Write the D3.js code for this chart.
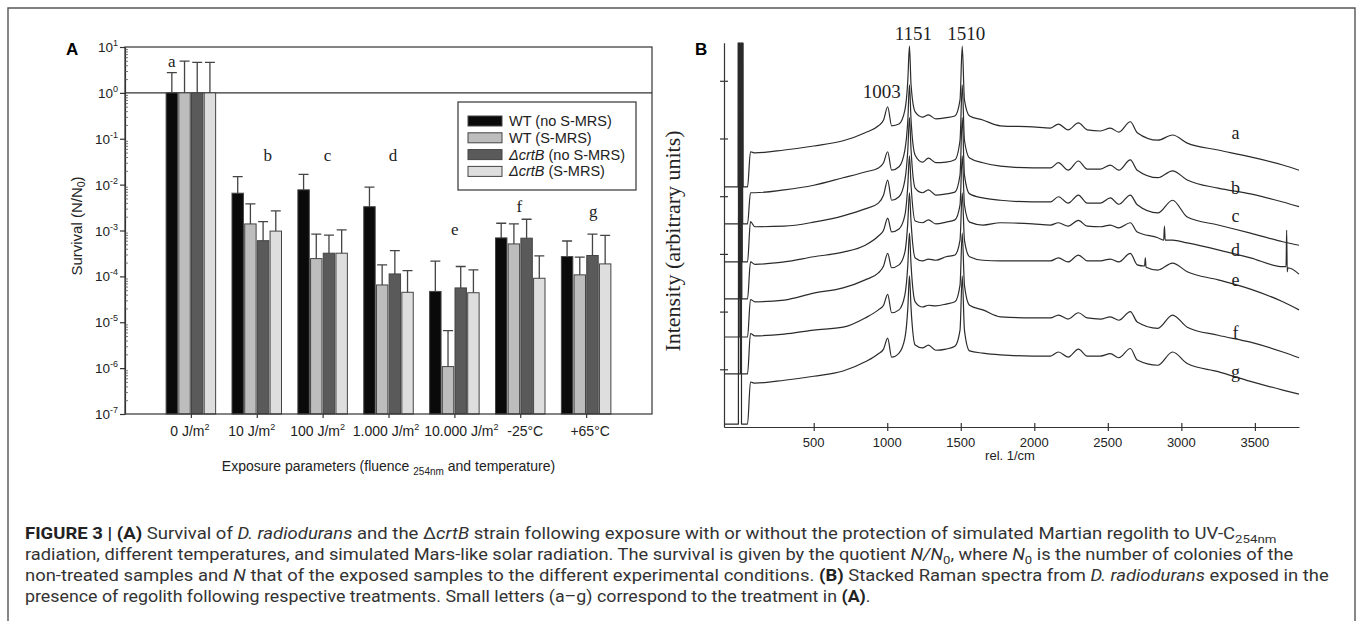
<!DOCTYPE html>
<html>
<head>
<meta charset="utf-8">
<script src="https://cdn.jsdelivr.net/npm/d3@7"></script>
<style>
  body { margin: 0; background: #fff; }
  svg { display: block; }
  .sans { font-family: "Liberation Sans", Arial, sans-serif; }
  .serif { font-family: "Liberation Serif", "Times New Roman", serif; }
</style>
</head>
<body>
<svg id="fig" width="1357" height="621"></svg>
<script>
// ---- Panel A: survival (N/N0), log scale ----
const conditions = ["0 J/m^2", "10 J/m^2", "100 J/m^2", "1.000 J/m^2", "10.000 J/m^2", "-25°C", "+65°C"]
const groupLetters = ["a", "b", "c", "d", "e", "f", "g"]
const letterLevels = [3.67, 0.0328, 0.0328, 0.0328, 8.0e-4, 2.54e-3, 1.98e-3]
const strains = ["WT (no S-MRS)", "WT (S-MRS)", "ΔcrtB (no S-MRS)", "ΔcrtB (S-MRS)"]

const wtNoMrs      = [1, 6.5e-3, 7.7e-3, 3.3e-3, 4.7e-5, 6.9e-4, 2.7e-4]
const wtNoMrsErr   = [2.75, 1.49e-2, 1.68e-2, 8.8e-3, 2.14e-4, 1.44e-3, 5.9e-4]
const wtMrs        = [1, 1.39e-3, 2.44e-4, 6.5e-5, 1.08e-6, 5.1e-4, 1.08e-4]
const wtMrsErr     = [4.9, 3.8e-3, 8.3e-4, 1.78e-4, 6.6e-6, 1.39e-3, 2.63e-4]
const crtNoMrs     = [1, 6.0e-4, 3.2e-4, 1.13e-4, 5.6e-5, 6.8e-4, 2.85e-4]
const crtNoMrsErr  = [4.6, 1.56e-3, 7.9e-4, 3.66e-4, 1.64e-4, 1.76e-3, 8.3e-4]
const crtMrs       = [1, 9.7e-4, 3.2e-4, 4.5e-5, 4.4e-5, 9.1e-5, 1.87e-4]
const crtMrsErr    = [4.6, 2.67e-3, 1.03e-3, 1.34e-4, 1.39e-4, 2.8e-4, 7.8e-4]

const yTickExponents = [1, 0, -1, -2, -3, -4, -5, -6, -7]

// ---- Panel B: stacked Raman spectra (arbitrary units) ----
const spectrumLabels = ["a", "b", "c", "d", "e", "f", "g"]
const wavenumbers = [100, 300, 500, 700, 850, 940, 975, 1003, 1030, 1080, 1120, 1140, 1151, 1162, 1190,
  1240, 1280, 1330, 1400, 1460, 1495, 1510, 1525, 1560, 1650, 1770, 1990, 2110, 2164, 2230,
  2300, 2360, 2450, 2517, 2575, 2653, 2700, 2840, 2940, 3040, 3250, 3470, 3690, 3800]
const specA = [4.75, 4.80, 4.87, 4.96, 5.10, 5.22, 5.32, 5.55, 5.22, 5.25, 5.49, 6.01, 6.60, 5.93, 5.46,
  5.37, 5.41, 5.34, 5.36, 5.39, 5.67, 6.60, 5.67, 5.39, 5.32, 5.22, 5.20, 5.18, 5.25, 5.15,
  5.27, 5.15, 5.13, 5.18, 5.11, 5.29, 5.10, 4.97, 5.06, 4.92, 4.80, 4.68, 4.54, 4.45]
const specB = [4.06, 4.11, 4.19, 4.32, 4.42, 4.49, 4.58, 4.77, 4.45, 4.51, 4.80, 5.32, 5.93, 5.32, 4.71,
  4.59, 4.66, 4.58, 4.59, 4.63, 4.97, 5.93, 4.97, 4.66, 4.58, 4.52, 4.49, 4.49, 4.58, 4.45,
  4.61, 4.47, 4.47, 4.54, 4.45, 4.63, 4.45, 4.32, 4.44, 4.28, 4.14, 4.04, 3.90, 3.82]
const specC = [3.47, 3.48, 3.55, 3.66, 3.78, 3.88, 4.02, 4.28, 3.93, 3.99, 4.28, 4.80, 5.36, 4.80, 4.14,
  4.06, 4.11, 4.02, 4.04, 4.07, 4.37, 5.36, 4.37, 4.04, 3.97, 3.93, 3.90, 3.90, 3.99, 3.88,
  4.02, 3.88, 3.88, 3.97, 3.86, 4.02, 3.85, 3.71, 3.93, 3.64, 3.50, 3.36, 3.21, 3.15]
const specD = [2.82, 2.86, 2.95, 3.03, 3.15, 3.31, 3.41, 3.62, 3.38, 3.43, 3.67, 4.19, 4.70, 4.19, 3.57,
  3.54, 3.59, 3.52, 3.55, 3.59, 3.85, 4.70, 3.85, 3.55, 3.50, 3.54, 3.52, 3.50, 3.54, 3.48,
  3.58, 3.48, 3.47, 3.50, 3.45, 3.54, 3.38, 3.28, 3.24, 3.19, 3.07, 2.93, 2.78, 2.65]
const specE = [2.17, 2.20, 2.32, 2.41, 2.55, 2.67, 2.79, 3.01, 2.76, 2.81, 3.03, 3.55, 4.06, 3.55, 2.93,
  2.88, 2.91, 2.89, 2.95, 2.98, 3.24, 4.06, 3.24, 2.95, 2.89, 2.88, 2.88, 2.88, 2.93, 2.86,
  2.98, 2.88, 2.88, 2.91, 2.86, 3.01, 2.81, 2.72, 2.84, 2.69, 2.55, 2.39, 2.17, 2.03]
const specF = [1.58, 1.61, 1.68, 1.73, 1.89, 2.03, 2.11, 2.30, 1.98, 2.03, 2.29, 2.81, 3.36, 2.81, 2.17,
  2.08, 2.11, 2.10, 2.13, 2.17, 2.46, 3.36, 2.46, 2.11, 2.03, 1.91, 1.89, 1.89, 1.94, 1.87,
  1.98, 1.89, 1.87, 1.91, 1.85, 2.00, 1.82, 1.71, 1.94, 1.73, 1.59, 1.47, 1.30, 1.20]
const specG = [0.76, 0.81, 0.88, 0.97, 1.13, 1.27, 1.35, 1.54, 1.21, 1.28, 1.54, 2.06, 2.62, 2.06, 1.42,
  1.37, 1.42, 1.33, 1.35, 1.40, 1.68, 2.62, 1.68, 1.32, 1.28, 1.25, 1.23, 1.23, 1.30, 1.21,
  1.35, 1.23, 1.23, 1.27, 1.20, 1.36, 1.16, 1.07, 1.30, 1.10, 0.96, 0.79, 0.64, 0.57]
// level before the laser line and just after the notch filter
const preLaser  = [4.16, 3.52, 2.86, 2.22, 1.56, 0.92, 0.05]
const postNotch = [4.77, 4.06, 3.56, 2.86, 2.21, 1.62, 0.78]
const laserUp   = [-14, -11, -8, -5, -2, 1, -12]
const laserDown = [20, 17, 14, 11, 8, 5, 9]
// cosmic-ray spikes
const spikesD = [[2880, 3.24], [2885, 3.48], [2890, 3.24], [3712, 2.78], [3716, 3.41], [3720, 2.69], [3725, 2.76]]
const spikesE = [[2750, 2.79], [2755, 2.93], [2760, 2.77]]
const labelLevels = [4.99, 4.04, 3.55, 2.96, 2.44, 1.53, 0.85]
const peakNames = ["1003", "1151", "1510"]
const peakWn = [1003, 1151, 1510]
const peakLevels = [5.70, 6.71, 6.71]
const xTicksB = [500, 1000, 1500, 2000, 2500, 3000, 3500]

// ---- caption ----
const captionLines = [
  [["FIGURE 3 | (A)", "b"], [" Survival of ", ""], ["D. radiodurans", "i"], [" and the Δ", ""], ["crtB", "i"],
   [" strain following exposure with or without the protection of simulated Martian regolith to UV-C", ""], ["254nm", "sub"]],
  [["radiation, different temperatures, and simulated Mars-like solar radiation. The survival is given by the quotient ", ""],
   ["N/N", "i"], ["0", "sub"], [", where ", ""], ["N", "i"], ["0", "sub"], [" is the number of colonies of the", ""]],
  [["non-treated samples and ", ""], ["N", "i"], [" that of the exposed samples to the different experimental conditions. ", ""],
   ["(B)", "b"], [" Stacked Raman spectra from ", ""], ["D. radiodurans", "i"], [" exposed in the", ""]],
  [["presence of regolith following respective treatments. Small letters (a–g) correspond to the treatment in ", ""],
   ["(A)", "b"], [".", ""]]
]
const captionWidths = [1252, 1269, 1304, 846]

const svg = d3.select("#fig")
const ink = "#333"

// figure frame
svg.append("path")
  .attr("d", "M8,625V8H1355V625")
  .attr("fill", "none").attr("stroke", "#555").attr("stroke-width", 1.4)

// ================= Panel A =================
const A = { left: 125, right: 652, top: 47, bottom: 414 }
const gA = svg.append("g")

const xA = d3.scalePoint().domain(d3.range(conditions.length)).range([A.left, A.right]).padding(1)
const yA = d3.scaleLog().domain([1e-7, 10]).range([A.bottom, A.top])
const xSub = d3.scaleBand().domain(d3.range(4)).range([-24.75, 24.75]).paddingInner(0.1)

const series = [
  { values: wtNoMrs, err: wtNoMrsErr, fill: "#0a0a0a" },
  { values: wtMrs, err: wtMrsErr, fill: "#bdbdbd" },
  { values: crtNoMrs, err: crtNoMrsErr, fill: "#5a5a5a" },
  { values: crtMrs, err: crtMrsErr, fill: "#dedede" }
]

// reference line at N/N0 = 1
gA.append("line")
  .attr("x1", A.left).attr("x2", A.right)
  .attr("y1", yA(1)).attr("y2", yA(1))
  .attr("stroke", ink).attr("stroke-width", 1.2)

series.forEach((s, si) => {
  const g = gA.append("g")
  conditions.forEach((c, ci) => {
    const cx = xA(ci) + xSub(si)
    g.append("rect")
      .attr("x", cx).attr("y", yA(s.values[ci]))
      .attr("width", xSub.bandwidth())
      .attr("height", yA(1e-7) - yA(s.values[ci]))
      .attr("fill", s.fill).attr("stroke", "#444").attr("stroke-width", 1)
    const mx = cx + xSub.bandwidth() / 2
    g.append("path")
      .attr("d", `M${mx},${yA(s.values[ci])}V${yA(s.err[ci])}M${mx - 5},${yA(s.err[ci])}H${mx + 5}`)
      .attr("fill", "none").attr("stroke", "#444").attr("stroke-width", 1.3)
  })
})

// plot box
gA.append("rect")
  .attr("x", A.left).attr("y", A.top)
  .attr("width", A.right - A.left).attr("height", A.bottom - A.top)
  .attr("fill", "none").attr("stroke", ink).attr("stroke-width", 1.2)

// y axis: majors outward, minors inward
const majors = yTickExponents.map(e => Math.pow(10, e))
const minors = []
yTickExponents.slice(1).forEach(e => { for (let m = 2; m < 10; m++) minors.push(m * Math.pow(10, e)) })

gA.append("g").attr("transform", `translate(${A.left},0)`)
  .call(d3.axisLeft(yA).tickValues(majors).tickSize(5).tickSizeOuter(0).tickFormat(""))
  .call(g => g.select(".domain").attr("stroke", ink).attr("stroke-width", 1.2))
  .call(g => g.selectAll(".tick line").attr("stroke", ink).attr("stroke-width", 1.2))
gA.append("g").attr("transform", `translate(${A.left},0)`)
  .call(d3.axisLeft(yA).tickValues(minors).tickSize(-3).tickFormat(""))
  .call(g => g.select(".domain").remove())
  .call(g => g.selectAll(".tick line").attr("stroke", "#555").attr("stroke-width", 0.8))

yTickExponents.forEach(e => {
  const t = gA.append("text").attr("class", "sans")
    .attr("x", 118).attr("y", yA(Math.pow(10, e)) + 5)
    .attr("text-anchor", "end").attr("font-size", 13.5).attr("fill", "#222")
  t.append("tspan").text("10")
  t.append("tspan").attr("dy", -6).attr("font-size", 9).text(String(e))
})

// x axis ticks and labels (labels sit slightly off their ticks, as in the original)
gA.append("g").attr("transform", `translate(0,${A.bottom})`)
  .call(d3.axisBottom(xA).tickSize(4).tickSizeOuter(0).tickFormat(""))
  .call(g => g.select(".domain").remove())
  .call(g => g.selectAll(".tick line").attr("stroke", ink).attr("stroke-width", 1.2))

const labelShift = [-1, -5, -5, -2.5, 7, 5, 4]
conditions.forEach((c, ci) => {
  const parts = c.split("^")
  const t = gA.append("text").attr("class", "sans")
    .attr("x", xA(ci) + labelShift[ci]).attr("y", 436)
    .attr("text-anchor", "middle").attr("font-size", 14).attr("fill", "#222")
  t.append("tspan").text(parts[0])
  if (parts[1]) t.append("tspan").attr("dy", -6).attr("font-size", 9).text(parts[1])
})

// group letters
const letterShift = [-19, 11, 5, 4.5, 0.5, -1, 7]
groupLetters.forEach((l, i) => {
  gA.append("text").attr("class", "serif")
    .attr("x", xA(i) + letterShift[i]).attr("y", yA(letterLevels[i]))
    .attr("text-anchor", "middle").attr("font-size", 17).attr("fill", "#222")
    .text(l)
})

// axis titles
const yTitle = gA.append("text").attr("class", "sans")
  .attr("transform", "translate(82,226) rotate(-90)")
  .attr("text-anchor", "middle").attr("font-size", 15).attr("fill", "#222")
yTitle.append("tspan").text("Survival (N/N")
yTitle.append("tspan").attr("dy", 3).attr("font-size", 10.5).text("0")
yTitle.append("tspan").attr("dy", -3).text(")")

const xTitle = gA.append("text").attr("class", "sans")
  .attr("x", (A.left + A.right) / 2).attr("y", 471)
  .attr("text-anchor", "middle").attr("font-size", 14).attr("fill", "#222")
xTitle.append("tspan").text("Exposure parameters (fluence ")
xTitle.append("tspan").attr("dy", 4).attr("font-size", 10).text("254nm")
xTitle.append("tspan").attr("dy", -4).text(" and temperature)")

// legend
const leg = gA.append("g").attr("transform", "translate(458,102)")
leg.append("rect").attr("width", 178).attr("height", 88)
  .attr("fill", "#fff").attr("stroke", ink).attr("stroke-width", 1.2)
strains.forEach((s, i) => {
  const cy = 19 + i * 16.8
  leg.append("rect").attr("x", 10).attr("y", cy - 5).attr("width", 34).attr("height", 10)
    .attr("fill", series[i].fill).attr("stroke", "#444").attr("stroke-width", 1)
  const t = leg.append("text").attr("class", "sans")
    .attr("x", 51).attr("y", cy + 5).attr("font-size", 14.5).attr("fill", "#222")
  if (s.startsWith("Δ")) {
    t.append("tspan").attr("font-style", "italic").text("ΔcrtB")
    t.append("tspan").text(s.slice(5))
  } else {
    t.text(s)
  }
})

svg.append("text").attr("class", "sans")
  .attr("x", 66).attr("y", 55).attr("font-size", 17).attr("font-weight", "bold").text("A")

// ================= Panel B =================
const B = { left: 724, right: 1299, top: 42.7, bottom: 427 }
const gB = svg.append("g")
const xB = d3.scaleLinear().domain([-110, 3800]).range([B.left, B.right])
const yB = d3.scaleLinear().domain([0, 6.66]).range([B.bottom, B.top])

svg.append("defs").append("clipPath").attr("id", "clipB")
  .append("rect").attr("x", B.left).attr("y", B.top)
  .attr("width", B.right - B.left + 2).attr("height", B.bottom - B.top)

const spectra = [specA, specB, specC, specD, specE, specF, specG]
const extraPoints = [[], [], [], spikesD, spikesE, [], []]
const line = d3.line().x(d => xB(d[0])).y(d => yB(d[1])).curve(d3.curveMonotoneX)

const traces = gB.append("g").attr("clip-path", "url(#clipB)")
spectra.forEach((vals, k) => {
  const pts = [
    [-110, preLaser[k]], [laserUp[k], preLaser[k]], [laserUp[k] + 1, 9], [laserDown[k] - 1, 9],
    [laserDown[k], preLaser[k]], [50, preLaser[k]], [70, postNotch[k]]
  ]
  const body = wavenumbers.map((w, i) => [w, vals[i]]).concat(extraPoints[k])
  body.sort((p, q) => p[0] - q[0])
  traces.append("path")
    .datum(pts.concat(body))
    .attr("d", line)
    .attr("fill", "none").attr("stroke", "#2b2b2b").attr("stroke-width", 1.2)
    .attr("stroke-linejoin", "round")
})

// axes of B
gB.append("g").attr("transform", `translate(0,${B.bottom})`)
  .call(d3.axisBottom(xB).tickValues(xTicksB).tickSize(4).tickSizeOuter(0).tickFormat(""))
  .call(g => g.select(".domain").attr("stroke", ink).attr("stroke-width", 1.2))
  .call(g => g.selectAll(".tick line").attr("y1", -4).attr("stroke", ink).attr("stroke-width", 1.2))
gB.append("g").attr("transform", `translate(${B.left},0)`)
  .call(d3.axisLeft(yB).tickValues([1, 2, 3, 4, 5, 6]).tickSize(4).tickSizeOuter(0).tickFormat(""))
  .call(g => g.select(".domain").attr("stroke", ink).attr("stroke-width", 1.2))
  .call(g => g.selectAll(".tick line").attr("x1", 4).attr("stroke", ink).attr("stroke-width", 1.2))

xTicksB.forEach(v => {
  gB.append("text").attr("class", "sans")
    .attr("x", xB(v)).attr("y", 447)
    .attr("text-anchor", "middle").attr("font-size", 13).attr("fill", "#222")
    .text(v)
})
gB.append("text").attr("class", "sans")
  .attr("x", 1010).attr("y", 460)
  .attr("text-anchor", "middle").attr("font-size", 13).attr("fill", "#222")
  .text("rel. 1/cm")

gB.append("text").attr("class", "serif")
  .attr("transform", "translate(680,241) rotate(-90)")
  .attr("text-anchor", "middle").attr("font-size", 22).attr("fill", "#222")
  .text("Intensity (arbitrary units)")

const peakShift = [-6, 4, 4]
peakNames.forEach((p, i) => {
  gB.append("text").attr("class", "serif")
    .attr("x", xB(peakWn[i]) + peakShift[i]).attr("y", yB(peakLevels[i]))
    .attr("text-anchor", "middle").attr("font-size", 19).attr("fill", "#222")
    .text(p)
})

spectrumLabels.forEach((l, i) => {
  gB.append("text").attr("class", "serif")
    .attr("x", xB(3368)).attr("y", yB(labelLevels[i]))
    .attr("text-anchor", "middle").attr("font-size", 18).attr("fill", "#222")
    .text(l)
})

svg.append("text").attr("class", "sans")
  .attr("x", 695).attr("y", 55).attr("font-size", 17).attr("font-weight", "bold").text("B")

// ================= caption =================
const cap = svg.append("g")
captionLines.forEach((segs, li) => {
  const y = 539 + li * 21
  const t = cap.append("text")
    .attr("font-family", "Roboto, 'Liberation Sans', sans-serif")
    .attr("font-size", 16).attr("fill", "#333")
  let shift = 0
  segs.forEach(([s, st]) => {
    const ts = t.append("tspan").text(s)
    if (st === "b") ts.attr("font-weight", "bold").attr("fill", "#222")
    if (st === "i") ts.attr("font-style", "italic")
    const want = st === "sub" ? 4 : 0
    if (want !== shift) { ts.attr("dy", want - shift); shift = want }
    if (st === "sub") ts.attr("font-size", 11.5)
  })
  const len = t.node().getComputedTextLength()
  t.attr("transform", `translate(25,${y}) scale(${captionWidths[li] / len},1)`)
})
</script>
</body>
</html>
